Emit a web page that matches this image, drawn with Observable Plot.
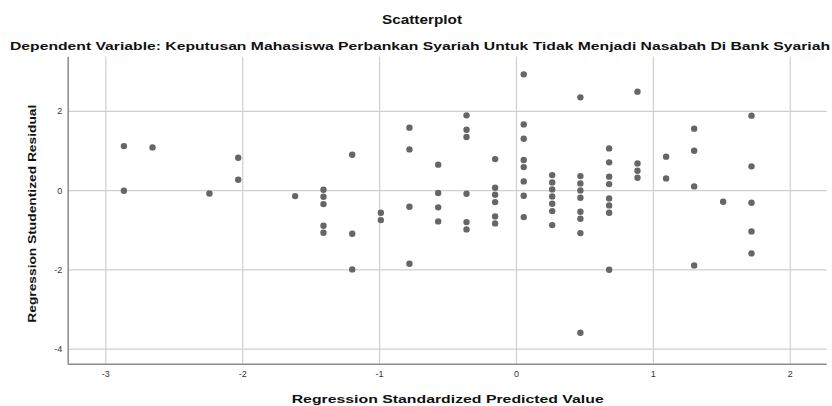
<!DOCTYPE html>
<html>
<head>
<meta charset="utf-8">
<script src="https://cdn.jsdelivr.net/npm/d3@7"></script>
<script src="https://cdn.jsdelivr.net/npm/@observablehq/plot@0.6"></script>
<style>
  html, body { margin: 0; padding: 0; background: #fff; }
  #wrap { position: relative; width: 832px; height: 406px; font-family: "Liberation Sans", Arial, sans-serif; overflow: hidden; }
  .t { position: absolute; white-space: nowrap; font-weight: bold; color: #111; line-height: 1; transform-origin: 0 0; }
  #chart { position: absolute; left: 0; top: 54px; }
</style>
</head>
<body>
<div id="wrap">
  <span class="t" id="title" style="font-size:12.5px;">Scatterplot</span>
  <span class="t" id="subtitle" style="font-size:11.5px;">Dependent Variable: Keputusan Mahasiswa Perbankan Syariah Untuk Tidak Menjadi Nasabah Di Bank Syariah</span>
  <div id="chart"></div>
</div>
<script>
// Regression Standardized Predicted Value
const predicted = [
  -2.868, -2.868, -2.659, -2.243, -2.033, -2.033, -1.617,
  -1.410, -1.410, -1.410, -1.410, -1.410,
  -1.200, -1.200, -1.200,
  -0.991, -0.991,
  -0.782, -0.782, -0.782, -0.782,
  -0.572, -0.572, -0.572, -0.572,
  -0.365, -0.365, -0.365, -0.365, -0.365, -0.365,
  -0.156, -0.156, -0.156, -0.156, -0.156, -0.156,
  0.053, 0.053, 0.053, 0.053, 0.053, 0.053, 0.053, 0.053,
  0.261, 0.261, 0.261, 0.261, 0.261, 0.261, 0.261,
  0.467, 0.467, 0.467, 0.467, 0.467, 0.467, 0.467, 0.467, 0.467,
  0.677, 0.677, 0.677, 0.677, 0.677, 0.677, 0.677, 0.677,
  0.884, 0.884, 0.884, 0.884,
  1.093, 1.093,
  1.298, 1.298, 1.298, 1.298,
  1.510,
  1.717, 1.717, 1.717, 1.717, 1.717
];
// Regression Studentized Residual
const residual = [
  1.126, 0.000, 1.093, -0.070, 0.833, 0.278, -0.136,
  0.025, -0.152, -0.338, -0.884, -1.061,
  0.909, -1.086, -1.987,
  -0.556, -0.742,
  1.591, 1.043, -0.404, -1.843,
  0.657, -0.060, -0.420, -0.775,
  1.902, 1.540, 1.354, -0.076, -0.793, -0.977,
  0.798, 0.076, -0.101, -0.288, -0.649, -0.826,
  2.937, 1.674, 1.313, 0.773, 0.596, 0.235, -0.126, -0.667,
  0.394, 0.210, 0.033, -0.144, -0.328, -0.515, -0.869,
  2.356, 0.369, 0.184, 0.008, -0.177, -0.530, -0.707, -1.071, -3.586,
  1.068, 0.715, 0.354, 0.167, -0.194, -0.371, -0.556, -1.995,
  2.500, 0.689, 0.505, 0.328,
  0.859, 0.311,
  1.566, 1.010, 0.109, -1.886,
  -0.278,
  1.894, 0.614, -0.303, -1.028, -1.583
];
const xTicks = [-3, -2, -1, 0, 1, 2];
const yTicks = [-4, -2, 0, 2];
const xTitle = "Regression Standardized Predicted Value";
const yTitle = "Regression Studentized Residual";

const data = predicted.map((x, i) => ({x, y: residual[i]}));
const fmt = d => d < 0 ? "-" + Math.abs(d) : String(d);

const chart = Plot.plot({
  width: 832,
  height: 352,
  marginTop: 2.7,
  marginBottom: 42.3,
  marginLeft: 67.7,
  marginRight: 5.3,
  style: {fontFamily: "'Liberation Sans', Arial, sans-serif", background: "#fff", overflow: "visible"},
  x: {domain: [-3.275, 2.27], label: null},
  y: {domain: [-4.38, 3.37], label: null},
  marks: [
    Plot.gridX(xTicks, {stroke: "#cfcfcf", strokeOpacity: 1, strokeWidth: 1.2}),
    Plot.gridY(yTicks, {stroke: "#cfcfcf", strokeOpacity: 1, strokeWidth: 1.2}),
    Plot.axisX(xTicks, {tickSize: 0, tickPadding: 6, fontSize: 9, fill: "#333", tickFormat: fmt}),
    Plot.axisY(yTicks, {tickSize: 0, tickPadding: 6, fontSize: 9, fill: "#333", tickFormat: fmt}),
    Plot.ruleX([-3.275], {stroke: "#8a8a8a", strokeWidth: 1.5}),
    Plot.ruleY([-4.38], {stroke: "#8a8a8a", strokeWidth: 1.5}),
    Plot.dot(data, {x: "x", y: "y", r: 3.2, fill: "#666666", stroke: "none"}),
    Plot.text([xTitle], {frameAnchor: "bottom", lineAnchor: "bottom", dy: 38.3, fontSize: 11.5, fontWeight: "bold", fill: "#111", text: d => d}),
    Plot.text([yTitle], {frameAnchor: "left", textAnchor: "middle", lineAnchor: "middle", dx: -36, dy: 3, rotate: -90, fontSize: 11.5, fontWeight: "bold", fill: "#111", text: d => d})
  ]
});
document.getElementById("chart").appendChild(chart);

// stretch titles horizontally like the SPSS output
d3.select(chart).selectAll("text").each(function() {
  if (this.textContent === xTitle) { this.setAttribute("textLength", 312); this.setAttribute("lengthAdjust", "spacingAndGlyphs"); }
  if (this.textContent === yTitle) { this.setAttribute("textLength", 218); this.setAttribute("lengthAdjust", "spacingAndGlyphs"); }
});
function placeTitle(id, targetWidth, centerX, baselineY) {
  const el = document.getElementById(id);
  const w = el.getBoundingClientRect().width;
  const fs = parseFloat(el.style.fontSize);
  const k = targetWidth / w;
  el.style.left = (centerX - targetWidth / 2) + "px";
  el.style.top = (baselineY - 0.905 * fs) + "px";
  el.style.transform = "scaleX(" + k + ")";
}
placeTitle("title", 80, 422, 25.5);
placeTitle("subtitle", 820, 419.5, 51);
</script>
</body>
</html>
